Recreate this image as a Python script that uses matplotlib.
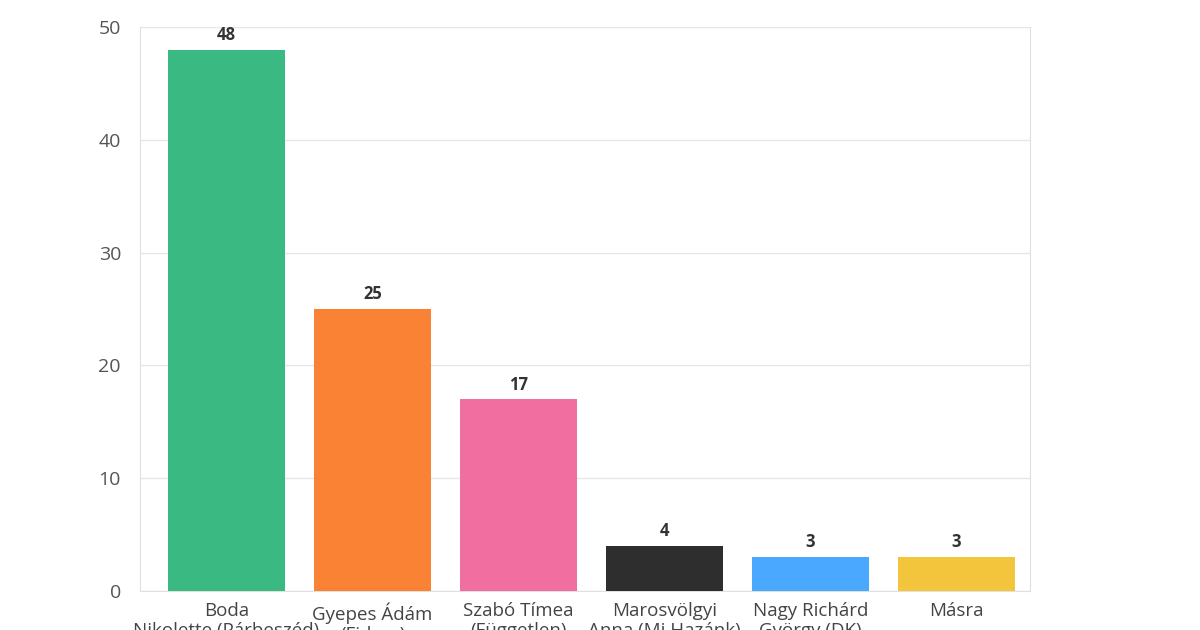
import matplotlib.pyplot as plt

plt.rcParams['font.family'] = ['Open Sans', 'DejaVu Sans']

categories = ['Boda\nNikolette (Párbeszéd)', 'Gyepes Ádám\n(Fidesz)', 'Szabó Tímea\n(Független)',
              'Marosvölgyi\nAnna (Mi Hazánk)', 'Nagy Richárd\nGyörgy (DK)', 'Másra']
values = [48, 25, 17, 4, 3, 3]
bar_colors = ['#3aba82', '#f98234', '#f06fa0', '#2e2e2e', '#4aa8ff', '#f2c53d']

fig = plt.figure(figsize=(12, 6.3), dpi=100)
ax = fig.add_axes([0.117, 0.062, 0.741, 0.895])

x = range(len(values))
bars = ax.bar(x, values, width=0.8, color=bar_colors, zorder=3)
for b, v in zip(bars, values):
    ax.text(b.get_x() + b.get_width() / 2, v + 0.5, str(v), ha='center', va='bottom',
            fontsize=12, fontweight='bold', color='#333333')

ax.set_xlim(-0.59, len(values) - 0.5)
ax.set_ylim(0, 50)
ax.set_yticks([0, 10, 20, 30, 40, 50])
ax.set_xticks(list(x))
ax.set_xticklabels(categories, fontsize=13.5, color='#444444', linespacing=1.15, va='top')
ax.tick_params(axis='y', labelsize=14, colors='#555555', length=0, pad=14)
ax.tick_params(axis='x', length=0, pad=8)
ax.grid(axis='y', color='#e6e6e6', linewidth=1, zorder=0)
ax.spines['top'].set_visible(False)
for s in ['left', 'right', 'bottom']:
    ax.spines[s].set_color('#e0e0e0')

fig.savefig('out.png')
